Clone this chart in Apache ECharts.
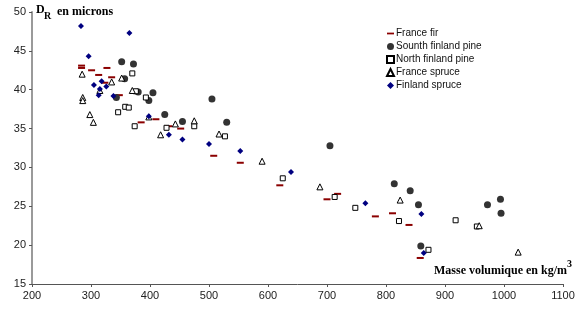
<!DOCTYPE html>
<html>
<head>
<meta charset="utf-8">
<script src="https://cdn.jsdelivr.net/npm/echarts@6/dist/echarts.min.js"></script>
<style>
html,body{margin:0;padding:0;background:#fff;}
#c{width:583px;height:336px;}
</style>
</head>
<body>
<div id="c"></div>
<script>
// tick values
var xTicks = [200, 300, 400, 500, 600, 700, 800, 900, 1000, 1100];
var yTicks = [15, 20, 25, 30, 35, 40, 45, 50];

var franceFir = [
  [284, 43.1], [284, 42.8], [301, 42.5], [313, 41.9], [327, 42.8], [335, 41.6], [323.5, 40.9],
  [348, 39.3], [385, 35.8], [410, 36.2], [432, 35.3], [452, 35.0], [508, 31.5], [553, 30.6],
  [620, 27.7], [700, 25.9], [718, 26.6], [782, 23.7], [811, 24.1], [839, 22.6], [858, 18.35]
];
var southFinlandPine = [
  [343, 39.0], [352, 43.6], [357, 41.4], [372, 43.3], [380, 39.7], [398, 38.6], [405, 39.6],
  [425, 36.8], [455, 35.9], [505, 38.8], [530, 35.8], [705, 32.8], [814, 27.9], [841, 27.0],
  [855, 25.2], [859, 19.9], [972, 25.2], [994, 25.9], [995, 24.1]
];
var northFinlandPine = [
  [346, 37.1], [358, 37.8], [364, 37.7], [370, 42.1], [376, 39.8], [374, 35.3], [393, 39.0],
  [428, 35.1], [475, 35.3], [527, 34.0], [625, 28.6], [713, 26.2], [748, 24.8], [822, 23.1],
  [872, 19.4], [918, 23.2], [954, 22.4]
];
var franceSpruce = [
  [285, 42.0], [286, 39.0], [286, 38.6], [298, 36.8], [304, 35.8], [315, 39.9], [335, 41.0],
  [352, 41.5], [370, 39.9], [398, 36.5], [418, 34.2], [443, 35.6], [475, 36.0], [517, 34.3],
  [590, 30.8], [688, 27.5], [824, 25.8], [958, 22.5], [1024, 19.1]
];
var finlandSpruce = [
  [283, 48.2], [296, 44.3], [305, 40.6], [313, 39.3], [315, 40.1], [318, 41.1], [326, 40.4],
  [338, 39.2], [365, 47.3], [398, 36.6], [432, 34.2], [455, 33.6], [500, 33.0], [553, 32.1],
  [639, 29.4], [765, 25.4], [860, 24.0], [864, 19.0]
];

var chart = echarts.init(document.getElementById('c'), null, {renderer: 'canvas'});
var serif = '"Liberation Serif", "Times New Roman", serif';
var sans = '"Liberation Sans", Arial, sans-serif';

chart.setOption({
  animation: false,
  backgroundColor: '#ffffff',
  grid: {left: 32, right: 20, top: 12, bottom: 52, containLabel: false},
  xAxis: {
    type: 'value', min: xTicks[0], max: xTicks[xTicks.length - 1], interval: 100,
    axisLine: {show: true, lineStyle: {color: '#555555', width: 1}},
    axisTick: {show: true, inside: false, length: 3, lineStyle: {color: '#555555'}},
    axisLabel: {color: '#222', fontFamily: sans, fontSize: 11, margin: 6,
      formatter: function (v) { return String(v); }},
    splitLine: {show: false}
  },
  yAxis: {
    type: 'value', min: yTicks[0], max: yTicks[yTicks.length - 1], interval: 5,
    axisLine: {show: true, lineStyle: {color: '#9a9a9a', width: 2}},
    axisTick: {show: true, inside: false, length: 3, lineStyle: {color: '#555555'}},
    axisLabel: {color: '#222', fontFamily: sans, fontSize: 11, margin: 6,
      formatter: function (v) { return String(v); }},
    splitLine: {show: false}
  },
  legend: {
    orient: 'vertical', left: 381, top: 22,
    itemWidth: 7, itemHeight: 7, itemGap: 0,
    textStyle: {fontFamily: sans, fontSize: 10, color: '#111', lineHeight: 13, padding: [0, 0, 0, -3]},
    data: [
      {name: 'France fir', icon: 'path://M0,0h8v2h-8z', itemStyle: {color: '#8b0000'}},
      {name: 'Sounth finland pine', icon: 'circle'},
      {name: 'North finland pine', icon: 'rect'},
      {name: 'France spruce', icon: 'triangle'},
      {name: 'Finland spruce', icon: 'diamond'}
    ]
  },
  graphic: [
    {type: 'text', left: 36, top: 4, style: {text: 'D', font: 'bold 12px ' + serif, fill: '#000'}},
    {type: 'text', left: 44, top: 11, style: {text: 'R', font: 'bold 10px ' + serif, fill: '#000'}},
    {type: 'text', left: 57, top: 6, style: {text: 'en microns', font: 'bold 12px ' + serif, fill: '#000'}},
    {type: 'text', left: 434, top: 265, style: {text: 'Masse volumique en kg/m', font: 'bold 12px ' + serif, fill: '#000'}},
    {type: 'text', left: 567, top: 259, style: {text: '3', font: 'bold 10px ' + serif, fill: '#000'}}
  ],
  series: [
    {
      name: 'France fir', type: 'scatter', data: franceFir,
      symbol: 'rect', symbolSize: [7, 2], symbolKeepAspect: true,
      itemStyle: {color: '#8b0000', opacity: 1}
    },
    {
      name: 'Sounth finland pine', type: 'scatter', data: southFinlandPine,
      symbol: 'circle', symbolSize: 7,
      itemStyle: {color: '#333333', opacity: 1}
    },
    {
      name: 'North finland pine', type: 'scatter', data: northFinlandPine,
      symbol: 'rect', symbolSize: 5,
      itemStyle: {color: '#ffffff', borderColor: '#000000', borderWidth: 1, opacity: 1}
    },
    {
      name: 'France spruce', type: 'scatter', data: franceSpruce,
      symbol: 'triangle', symbolSize: 6,
      itemStyle: {color: '#ffffff', borderColor: '#000000', borderWidth: 1, opacity: 1}
    },
    {
      name: 'Finland spruce', type: 'scatter', data: finlandSpruce,
      symbol: 'diamond', symbolSize: 6,
      itemStyle: {color: '#000080', opacity: 1}
    }
  ]
});
</script>
</body>
</html>
